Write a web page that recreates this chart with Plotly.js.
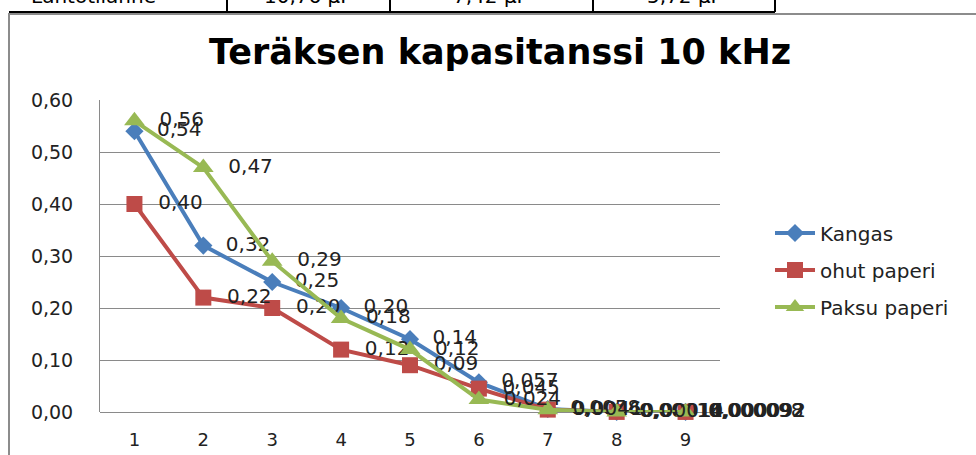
<!DOCTYPE html>
<html>
<head>
<meta charset="utf-8">
<script src="https://cdn.plot.ly/plotly-3.0.1.min.js"></script>
<style>html,body{margin:0;padding:0;background:#fff;}#chart{width:976px;height:455px;}</style>
</head>
<body>
<div id="chart"></div>
<script>
// ---- data ----
const categories = [1, 2, 3, 4, 5, 6, 7, 8, 9];
const kangas      = [0.54, 0.32, 0.25, 0.20, 0.14, 0.057, 0.0058, 0.00016, 0.000098];
const ohutPaperi  = [0.40, 0.22, 0.20, 0.12, 0.09, 0.045, 0.0046, 0.00011, 0.000092];
const paksuPaperi = [0.56, 0.47, 0.29, 0.18, 0.12, 0.024, 0.0041, 0.00014, 0.000092];
const seriesNames = ["Kangas", "ohut paperi", "Paksu paperi"];
const titleText = "Teräksen kapasitanssi 10 kHz";
const yTickVals = [0, 0.1, 0.2, 0.3, 0.4, 0.5, 0.6];
const tableCells = ["Lähtötilanne", "10,76 µF", "7,42 µF", "5,72 µF"];

// ---- helpers ----
const L = 100, R = 720, T = 100, B = 412; // plot area in px
const px = x => (x - L) / (R - L);
const py = y => (B - y) / (B - T);
const fmt = v => (v >= 0.08 ? v.toFixed(2) : String(v)).replace('.', ',');
const pad = '\u00a0\u00a0';

const font = "DejaVu Sans, Verdana, sans-serif";
const mk = (y, name, color, symbol, size) => ({
  x: categories, y: y, name: name, type: 'scatter', mode: 'lines+markers+text',
  line: {color: color, width: 4},
  marker: {color: color, symbol: symbol, size: size},
  text: y.map(v => pad + fmt(v)), textposition: 'middle right',
  textfont: {family: font, size: 20, color: '#222'},
  legendgroup: name, cliponaxis: false
});

const data = [
  mk(kangas, seriesNames[0], '#4A7EBB', 'diamond', 14),
  mk(ohutPaperi, seriesNames[1], '#BE4B48', 'square', 16),
  mk(paksuPaperi, seriesNames[2], '#98B954', 'triangle-up', 18)
];

const shapes = [
  // chart frame (gray)
  {type:'line', xref:'paper', yref:'paper', x0:px(9), x1:px(9), y0:py(13), y1:py(460), line:{color:'#8c8c8c', width:2}},
  {type:'line', xref:'paper', yref:'paper', x0:px(9), x1:px(980), y0:py(14), y1:py(14), line:{color:'#8c8c8c', width:2}},
  // table row above (black)
  {type:'line', xref:'paper', yref:'paper', x0:px(9), x1:px(775), y0:py(12), y1:py(12), line:{color:'#000', width:2}},
  {type:'line', xref:'paper', yref:'paper', x0:px(227), x1:px(227), y0:py(-5), y1:py(12), line:{color:'#000', width:2}},
  {type:'line', xref:'paper', yref:'paper', x0:px(390), x1:px(390), y0:py(-5), y1:py(12), line:{color:'#000', width:2}},
  {type:'line', xref:'paper', yref:'paper', x0:px(593), x1:px(593), y0:py(-5), y1:py(12), line:{color:'#000', width:2}},
  {type:'line', xref:'paper', yref:'paper', x0:px(775), x1:px(775), y0:py(-5), y1:py(12), line:{color:'#000', width:2}}
];

const cellX = [93, 308, 490, 684];
const annotations = tableCells.map((t, i) => ({
  text: t, xref:'paper', yref:'paper', x: px(cellX[i]), y: py(-4),
  xanchor:'center', yanchor:'middle', showarrow:false,
  font:{family:font, size:20, color:'#000'}
}));

const layout = {
  width: 976, height: 455,
  margin: {l: L, r: 976 - R, t: T, b: 455 - B},
  paper_bgcolor: '#fff', plot_bgcolor: '#fff',
  separators: ',.',
  font: {family: font, color: '#222'},
  title: {
    text: '<b>' + titleText + '</b>',
    font: {family: font, size: 35, color: '#000'},
    xref: 'paper', x: px(500), xanchor: 'center',
    yref: 'container', y: 1 - 52/455, yanchor: 'middle'
  },
  xaxis: {
    range: [0.5, 9.5], tickvals: categories, ticktext: categories.map(String),
    showgrid: false, zeroline: false, showline: false,
    ticks: '', tickfont: {family: font, size: 18, color: '#222'},
    ticklabelstandoff: 15
  },
  yaxis: {
    range: [0, 0.6], tickvals: yTickVals, tickformat: '.2f',
    showgrid: true, gridcolor: '#8a8a8a', gridwidth: 1,
    zeroline: true, zerolinecolor: '#8a8a8a', zerolinewidth: 1,
    showline: true, linecolor: '#8a8a8a', linewidth: 1,
    ticks: '', tickfont: {family: font, size: 19, color: '#222'},
    ticklabelstandoff: 22
  },
  legend: {
    x: px(770), y: py(270), xanchor: 'left', yanchor: 'middle',
    font: {family: font, size: 20, color: '#222'},
    tracegroupgap: 8, itemwidth: 40, bgcolor: 'rgba(0,0,0,0)'
  },
  shapes: shapes, annotations: annotations,
  showlegend: true
};

Plotly.newPlot('chart', data, layout, {displayModeBar: false, staticPlot: true});
</script>
</body>
</html>
